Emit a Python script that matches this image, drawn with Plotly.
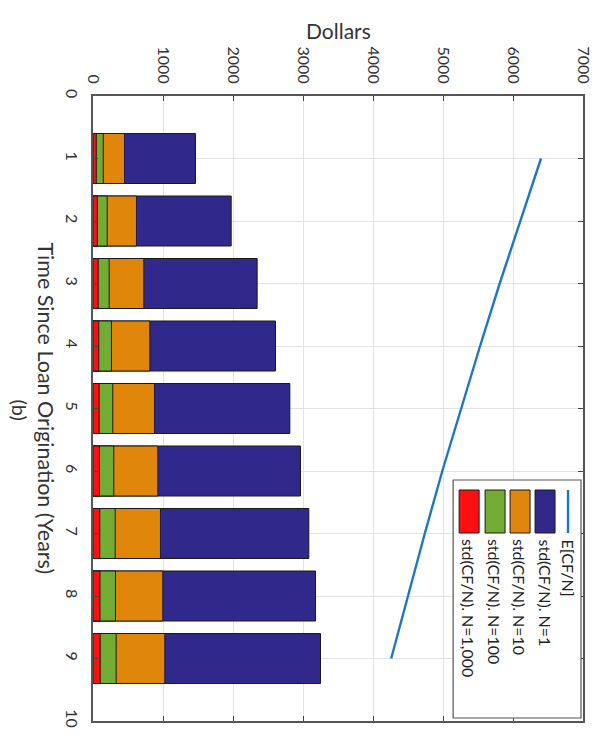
import plotly.graph_objects as go

# ---- data ----
years = [1, 2, 3, 4, 5, 6, 7, 8, 9]
std_n1 = [1464, 1974, 2345, 2607, 2812, 2964, 3083, 3179, 3250]
std_n10 = [450, 621, 726, 812, 879, 926, 964, 997, 1026]
std_n100 = [146, 203, 231, 264, 283, 297, 317, 321, 331]
std_n1000 = [47, 62, 74, 82, 88, 93, 97, 100, 103]
expected_cf = [6400, 6100, 5810, 5530, 5260, 4990, 4740, 4500, 4260]

x_ticks = [0, 1000, 2000, 3000, 4000, 5000, 6000, 7000]
y_ticks = [0, 1, 2, 3, 4, 5, 6, 7, 8, 9, 10]

names = ["E[CF/N]", "std(CF/N). N=1", "std(CF/N). N=10",
         "std(CF/N). N=100", "std(CF/N). N=1,000"]

# ---- style ----
OFF = 8  # default page body margin
W, H = 605 - OFF, 738 - OFF
L, R, T, B = 92.5 - OFF, 22, 96 - OFF, 17
FONT = "Lato"
TXT = "#333333"
C_LINE = "#1f77c4"
C_BLUE = "#30288a"
C_ORANGE = "#e0860a"
C_GREEN = "#73ac32"
C_RED = "#ff1010"

pw = W - L - R
ph = H - T - B


def px(x):
    return (x - OFF - L) / pw


def py(y):
    return (H + OFF - B - y) / ph


fig = go.Figure()
for vals, col in [(std_n1, C_BLUE), (std_n10, C_ORANGE),
                  (std_n100, C_GREEN), (std_n1000, C_RED)]:
    fig.add_trace(go.Bar(x=vals, y=years, orientation="h", width=0.8,
                         marker=dict(color=col, line=dict(color="#1a1a1a", width=1)),
                         showlegend=False))
fig.add_trace(go.Scatter(x=expected_cf, y=years, mode="lines",
                         line=dict(color=C_LINE, width=2.4), showlegend=False))

fig.update_layout(
    width=W, height=H,
    margin=dict(l=L, r=R, t=T, b=B, pad=0, autoexpand=False),
    paper_bgcolor="white", plot_bgcolor="white",
    barmode="overlay",
    font=dict(family=FONT, size=16, color=TXT),
    xaxis=dict(range=[0, 7000], side="top", tickvals=x_ticks,
               ticktext=[str(v) for v in x_ticks], tickangle=90,
               showgrid=True, gridcolor="#e3e3e3", gridwidth=1,
               ticks="inside", ticklen=5, tickcolor="#444",
               showline=True, linecolor="#555", linewidth=1.5, mirror="ticks",
               zeroline=False, ticklabelstandoff=5, automargin=False,
               tickfont=dict(family=FONT, size=16, color=TXT)),
    yaxis=dict(range=[10, 0], tickvals=y_ticks,
               ticktext=[str(v) for v in y_ticks], tickangle=90,
               showgrid=True, gridcolor="#e3e3e3", gridwidth=1,
               ticks="inside", ticklen=5, tickcolor="#444",
               showline=True, linecolor="#555", linewidth=1.5, mirror="ticks",
               zeroline=False, ticklabelstandoff=6, automargin=False,
               tickfont=dict(family=FONT, size=16, color=TXT)),
)

ann = []
ann.append(dict(text="Dollars", x=px(338), y=py(31), xref="paper", yref="paper",
                showarrow=False, xanchor="center", yanchor="middle",
                font=dict(family=FONT, size=21, color=TXT)))
ann.append(dict(text="Time Since Loan Origination (Years)", x=px(45), y=py(408),
                xref="paper", yref="paper", showarrow=False, textangle=90,
                xanchor="center", yanchor="middle",
                font=dict(family=FONT, size=21.5, color=TXT)))
ann.append(dict(text="(b)", x=px(19), y=py(410), xref="paper", yref="paper",
                showarrow=False, textangle=90, xanchor="center", yanchor="middle",
                font=dict(family=FONT, size=20, color=TXT)))

shapes = []
# legend box
shapes.append(dict(type="rect", xref="paper", yref="paper",
                   x0=px(453), x1=px(581), y0=py(480), y1=py(718),
                   line=dict(color="#555", width=1.2), fillcolor="white", layer="above"))
# legend line sample
shapes.append(dict(type="line", xref="paper", yref="paper",
                   x0=px(568), x1=px(568), y0=py(490), y1=py(533),
                   line=dict(color=C_LINE, width=2.4), layer="above"))
sw = [(545, C_BLUE), (520, C_ORANGE), (495, C_GREEN), (469, C_RED)]
for cx, col in sw:
    shapes.append(dict(type="rect", xref="paper", yref="paper",
                       x0=px(cx - 10), x1=px(cx + 10), y0=py(490), y1=py(533),
                       line=dict(color="#1a1a1a", width=1), fillcolor=col, layer="above"))
lx = [568, 545, 520, 495, 469]
for name, cx in zip(names, lx):
    ann.append(dict(text=name, x=px(cx), y=py(537), xref="paper", yref="paper",
                    showarrow=False, textangle=90, xanchor="center", yanchor="top",
                    font=dict(family=FONT, size=16, color="#222")))

fig.update_layout(annotations=ann, shapes=shapes)
fig.write_html("out.html")
